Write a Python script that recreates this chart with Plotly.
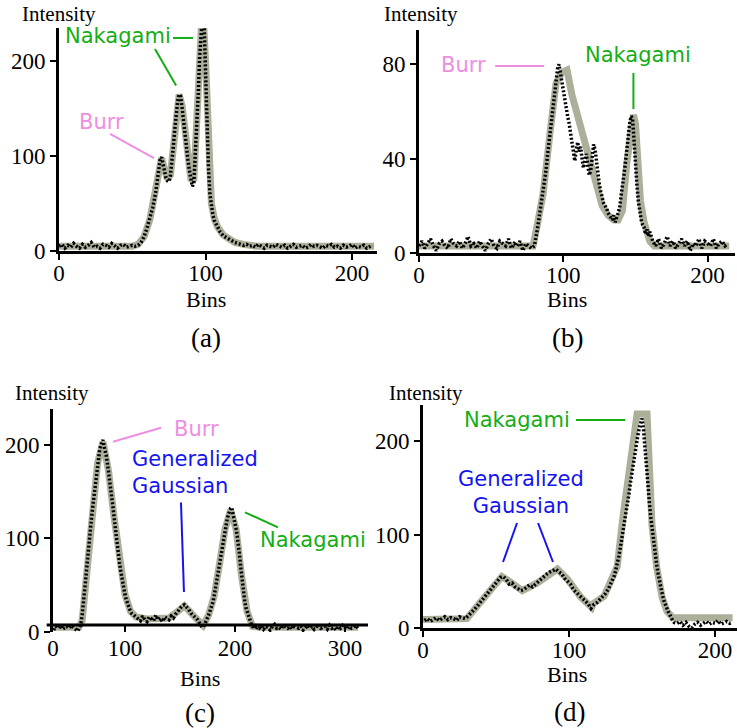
import plotly.graph_objects as go

# ---- panel (a) ----
a_obs_x = list(range(0, 53, 2)) + list(range(54, 66, 2)) + list(range(66, 107)) + list(range(108, 129, 2)) + list(range(130, 215, 2))
a_obs_y = [5, 7, 3, 6, 4, 8, 5, 3, 7, 4, 6, 9, 4, 5, 3, 7, 6, 4, 8, 5, 3, 6, 7, 4, 5, 6, 5,
           6, 9, 15, 24, 34, 46,
           62, 72, 86, 96, 99, 91, 83, 77, 74, 73, 79, 92, 110, 128, 146, 158, 165, 163, 151, 135,
           120, 107, 96, 85, 76, 68, 72, 98, 135, 165, 205, 240, 250, 240, 190, 128, 88, 60, 46, 38, 32,
           25, 20, 16, 14, 12, 10, 9, 8, 7, 6, 7,
           5, 6, 4, 7, 5, 3, 6, 5, 4, 7, 5, 4, 6, 3, 5, 7, 4, 5, 6, 3, 4, 7, 5, 6, 4, 3, 6, 5, 7, 4,
           5, 3, 6, 4, 5, 7, 3, 5, 4, 6, 3, 5, 6]
a_fit_x = [0, 10, 20, 30, 40, 50, 54, 58, 62, 66, 68, 70, 72, 74, 76, 78, 80, 82, 84, 86, 88, 90, 92, 94,
           96, 98, 100, 102, 104, 106, 108, 112, 116, 120, 126, 135, 150, 175, 200, 215]
a_fit_y = [5, 5, 5, 5, 5, 5, 7, 15, 33, 62, 84, 98, 86, 76, 80, 110, 146, 165, 153, 121, 96, 76, 74, 138,
           215, 262, 200, 95, 50, 34, 26, 17, 12, 9, 7, 5, 5, 5, 5, 5]

# ---- panel (b) ----
b_obs_x = list(range(0, 79, 2)) + list(range(80, 161)) + list(range(162, 215, 2))
b_obs_y = [3, 5, 2, 4, 6, 3, 1, 4, 5, 3, 2, 6, 4, 3, 5, 2, 4, 7, 3, 4, 2, 5, 3, 1, 4, 6, 3, 2, 5, 4,
           3, 6, 2, 4, 3, 5, 1, 4, 3, 2,
           3, 6, 10, 14, 18, 21, 25, 30, 35, 41,
           46, 51, 57, 63, 69, 74, 78, 80, 76, 72,
           68, 64, 61, 58, 55, 51, 46, 42, 39, 44,
           47, 43, 45, 40, 36, 39, 42, 37, 33, 35,
           41, 46, 44, 38, 33, 29, 26, 23, 21, 20,
           19, 17, 16, 15, 14, 16, 13, 15, 17, 19,
           24, 30, 33, 38, 44, 50, 55, 58, 57, 48,
           36, 29, 22, 17, 14, 12, 11, 8, 10, 7, 9,
           5, 3, 6, 2, 4, 7, 3, 5, 2, 4, 6, 3, 5, 1, 4, 3, 6, 2, 5, 4, 3, 6, 2, 4, 5, 3, 4]
b_fit_x = [0, 40, 79, 82, 86, 91, 95, 99, 102.6, 106, 112, 117, 122, 127, 131, 135, 138, 141, 144, 146.5,
           148.6, 150, 151.5, 153.5, 156, 158, 160, 163, 180, 215]
b_fit_y = [3, 3, 3, 12, 25, 52, 72, 76.5, 77.5, 67, 53, 42, 31, 20, 16, 14, 14, 18, 38, 52,
           58.5, 55, 43, 22, 13, 8.5, 5, 3, 3, 3]

# ---- panel (c) ----
c_obs_x = list(range(35, 60, 2)) + list(range(60, 111)) + list(range(112, 147, 2)) + list(range(148, 179, 2)) + list(range(179, 221)) + list(range(222, 313, 2))
c_obs_y = [2, 6, 4, 7, 3, 5, 6, 4, 7, 5, 3, 1, 6,
           10, 18, 28, 40, 53, 66, 80, 94, 106, 117,
           127, 137, 147, 158, 170, 180, 188, 195, 199, 203,
           205, 198, 194, 188, 180, 172, 162, 154, 144, 134,
           123, 112, 101, 92, 82, 74, 66, 58, 51, 45,
           40, 35, 31, 28, 25, 22, 20, 19, 18, 17, 16,
           15, 12, 17, 13, 11, 16, 14, 12, 18, 13, 15, 11, 16, 14, 13, 17, 15, 19,
           22, 25, 28, 29, 27, 24, 20, 18, 15, 13, 9, 5, 7, 12, 18, 25,
           28, 32, 38, 45, 52, 59, 66, 73, 80, 88,
           96, 104, 110, 116, 121, 125, 129, 132, 133, 128,
           123, 117, 110, 103, 95, 84, 72, 60, 48, 39,
           32, 26, 22, 18, 14, 11, 8, 6, 4, 6, 3, 5,
           4, 7, 3, 6, 5, 2, 6, 8, 4, 5, 3, 7, 5, 4, 6, 3, 8, 5, 4, 6, 2, 5, 7, 4, 6, 3, 5, 8, 4, 5,
           6, 3, 7, 4, 5, 2, 6, 4, 7, 5, 3, 6, 4, 5, 7, 4]
c_fit_x = [35, 58, 61, 65, 70, 75, 80, 85, 90, 95, 100, 105, 110, 120, 130, 140, 147, 154, 161, 166,
           171, 176, 181, 186, 191, 196, 201, 206, 211, 216, 222, 312]
c_fit_y = [5, 5, 12, 60, 127, 180, 203, 172, 123, 74, 40, 22, 16, 14, 14, 15, 21, 28, 19, 12,
           7, 18, 38, 73, 110, 130, 110, 60, 22, 6, 5, 5]

# ---- panel (d) ----
d_obs_x = list(range(1, 30, 2)) + list(range(31, 130, 2)) + list(range(130, 173)) + list(range(174, 213, 2))
d_obs_y = [8, 10, 7, 9, 11, 8, 10, 12, 9, 11, 10, 8, 12, 11, 10,
           13, 16, 19, 23, 27, 31, 35, 39, 43, 46,
           50, 54, 55, 52, 47, 48, 44, 42, 40, 41,
           43, 46, 44, 47, 50, 52, 55, 58, 60, 62,
           63, 60, 58, 53, 50, 47, 41, 38, 34, 31,
           28, 26, 21, 25, 27, 30, 33, 37, 42, 48,
           52, 56, 62, 68, 76, 85, 94, 103, 112, 121,
           132, 143, 155, 166, 177, 187, 196, 205, 213, 220,
           224, 212, 190, 169, 152, 134, 118, 104, 92, 80,
           68, 58, 49, 42, 35, 29, 24, 20, 17, 14,
           10, 8, 6,
           5, 7, 3, 6, 2, 0, 4, 6, 3, 5, 7, 4, 6, 5, 8, 4, 6, 7, 5, 6]
d_fit_x = [0, 30, 39, 46, 54, 60, 68, 78, 92, 99, 108, 115.5, 116.5, 124, 133, 137, 141, 144, 146.6, 153.4,
           155, 156.8, 160, 163.7, 167, 171, 212]
d_fit_y = [9, 10, 27, 41, 55, 49, 40, 48, 63, 52, 33, 22, 26, 34, 66, 120, 165, 200, 229, 229,
           170, 110, 65, 33, 18, 11, 11]

x_ranges = [[0, 217], [0, 219], [34.5, 321], [0, 215]]
y_ranges = [[0, 235], [0, 94.5], [0, 238], [0, 238.5]]
y_ticks = [[0, 100, 200], [0, 40, 80], [0, 100, 200], [0, 100, 200]]
x_tickvals = [[0, 100, 200], [0, 100, 200], [34.5, 100, 200, 300], [0, 100, 200]]
x_ticktext = [["0", "100", "200"], ["0", "100", "200"], ["0", "100", "200", "300"], ["0", "100", "200"]]
panel_tags = ["(a)", "(b)", "(c)", "(d)"]

GREEN = "#14ad14"
PINK = "#ee8ee2"
BLUE = "#1414f0"
FIT = "#abb09b"
SERIF = "Liberation Serif"
SANS = "DejaVu Sans"

W, H = 737, 728
# plot areas in pixels: left, right, top, bottom
boxes = [(59, 377, 28, 251), (419, 735, 30, 253), (53, 368, 409, 632), (423, 737, 405, 628)]

fig = go.Figure()
series = [(a_obs_x, a_obs_y, a_fit_x, a_fit_y), (b_obs_x, b_obs_y, b_fit_x, b_fit_y),
          (c_obs_x, c_obs_y, c_fit_x, c_fit_y), (d_obs_x, d_obs_y, d_fit_x, d_fit_y)]

layout = dict(width=W, height=H, margin=dict(l=0, r=0, t=0, b=0),
              paper_bgcolor="white", plot_bgcolor="white", showlegend=False)

for i, (ox, oy, fx, fy) in enumerate(series):
    n = "" if i == 0 else str(i + 1)
    fig.add_trace(go.Scatter(x=fx, y=fy, mode="lines", xaxis="x" + n, yaxis="y" + n,
                             line=dict(color=FIT, width=7), hoverinfo="skip"))
    fig.add_trace(go.Scatter(x=ox, y=oy, mode="lines", xaxis="x" + n, yaxis="y" + n,
                             line=dict(color="black", width=3.5, dash="2px,2px"), hoverinfo="skip"))
    l, r, t, b = boxes[i]
    xa = dict(domain=[l / W, r / W], range=x_ranges[i], anchor="y" + n, automargin=False,
              tickvals=x_tickvals[i], ticktext=x_ticktext[i], ticklabelstandoff=-7,
              showline=True, linecolor="black", linewidth=3, ticks="outside", ticklen=6,
              tickwidth=2, tickcolor="black", showgrid=False, zeroline=False,
              tickfont=dict(family=SERIF, size=23, color="black"))
    ya = dict(domain=[1 - b / H, 1 - t / H], range=y_ranges[i], anchor="x" + n, automargin=False,
              tickvals=y_ticks[i], showline=True, linecolor="black", linewidth=3,
              ticks="outside", ticklen=6, tickwidth=2, tickcolor="black", showgrid=False,
              zeroline=False, tickfont=dict(family=SERIF, size=23, color="black"))
    if i == 2:
        # x axis line of (c) sits a little above zero
        xa.update(showline=False, ticks="inside", ticklen=8, ticklabelstandoff=0)
    layout["xaxis" + n] = xa
    layout["yaxis" + n] = ya

fig.update_layout(**layout)

fig.add_shape(type="line", xref="x3 domain", yref="y3", x0=-0.02, x1=1, y0=7.4, y1=7.4,
              line=dict(color="black", width=3))

# axis titles and panel tags
for (px_, py_) in [(20, 14), (382, 14), (13, 393), (387, 393)]:
    fig.add_annotation(text="Intensity", x=px_ / W, y=1 - py_ / H, xref="paper", yref="paper",
                       xanchor="left", yanchor="middle", showarrow=False,
                       font=dict(family=SERIF, size=21, color="black"))
for (px_, py_) in [(206, 299), (567, 299), (200, 678), (567, 674)]:
    fig.add_annotation(text="Bins", x=px_ / W, y=1 - py_ / H, xref="paper", yref="paper",
                       xanchor="center", yanchor="middle", showarrow=False,
                       font=dict(family=SERIF, size=22, color="black"))
for tag, (px_, py_) in zip(panel_tags, [(206, 338), (567, 338), (200, 713), (569, 712)]):
    fig.add_annotation(text=tag, x=px_ / W, y=1 - py_ / H, xref="paper", yref="paper",
                       xanchor="center", yanchor="middle", showarrow=False,
                       font=dict(family=SERIF, size=27, color="black"))


def label(text, ax, x, y, color, xanchor="left", align="left"):
    n = "" if ax == 1 else str(ax)
    fig.add_annotation(text=text, x=x, y=y, xref="x" + n, yref="y" + n, xanchor=xanchor,
                       yanchor="middle", align=align, showarrow=False,
                       font=dict(family=SANS, size=21, color=color))


def pointer(ax, x0, y0, x1, y1, color):
    n = "" if ax == 1 else str(ax)
    fig.add_shape(type="line", xref="x" + n, yref="y" + n, x0=x0, y0=y0, x1=x1, y1=y1,
                  line=dict(color=color, width=2))


# (a)
label("Nakagami", 1, 2.7, 226.6, GREEN)
pointer(1, 77.8, 224.5, 91.5, 224.5, GREEN)
pointer(1, 65.5, 212.8, 79.9, 174.5, GREEN)
label("Burr", 1, 12.3, 136, PINK)
pointer(1, 34.8, 123.4, 64.8, 97.9, PINK)
# (b)
label("Burr", 2, 47.9, 79.7, PINK, xanchor="right")
pointer(2, 52.8, 79.2, 86.8, 79.2, PINK)
label("Nakagami", 2, 113.9, 83.9, GREEN)
pointer(2, 148.6, 76.3, 148.6, 61.0, GREEN)
# (c)
label("Burr", 3, 142.7, 217, PINK)
pointer(3, 89.1, 203, 132.7, 218, PINK)
label("Generalized<br>Gaussian", 3, 104.5, 170, BLUE)
pointer(3, 150.9, 138.3, 153.6, 42.6, BLUE)
label("Nakagami", 3, 220.9, 97.9, GREEN)
pointer(3, 209.1, 127.7, 239.1, 111.7, GREEN)
# (d)
label("Nakagami", 4, 26.7, 222.5, GREEN)
pointer(4, 104.8, 222.5, 138.4, 222.5, GREEN)
label("Generalized<br>Gaussian", 4, 66.8, 144.4, BLUE, xanchor="center", align="center")
pointer(4, 64.4, 112.3, 54.8, 70.6, BLUE)
pointer(4, 78.8, 112.3, 89.0, 70.6, BLUE)

# page body has a default margin; drop it so the figure fills the window
fig.write_html("out.html", config={"displayModeBar": False},
               post_script="document.body.style.margin='0px';")
